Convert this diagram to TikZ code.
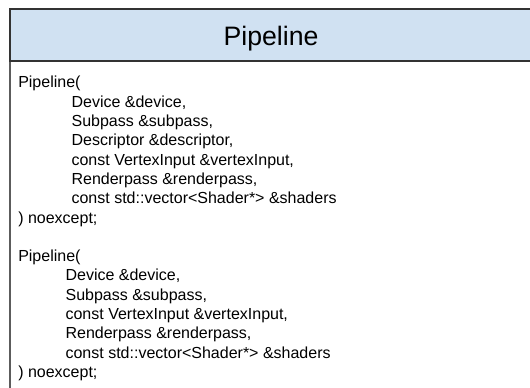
\documentclass[tikz,border=0pt]{standalone}
\usepackage{fontspec}
\setmainfont{Liberation Sans}
\usetikzlibrary{positioning}

\definecolor{headfill}{HTML}{D0E1F2}
\definecolor{boxline}{HTML}{333333}

\tikzset{
    header/.style={fill=headfill, draw=boxline, line width=1.5pt},
    body/.style={fill=white, draw=boxline!80, line width=0.9pt},
    code/.style={align=left, inner sep=0pt, anchor=base west,
        font=\fontsize{12pt}{14.5pt}\selectfont},
}

\begin{document}
\begin{tikzpicture}[x=0.75pt, y=-0.75pt]
    \useasboundingbox (0,0) rectangle (530,387);
    \clip (0,0) rectangle (530,387);

    % class box
    \draw[body] (10,61) rectangle (532,420);
    \draw[header] (10,9) rectangle (532,61);
    \node[font=\fontsize{20pt}{24pt}\selectfont, anchor=base] (title) at (271,45) {Pipeline};

    % constructors (base anchor sits on the last line)
    \node[code] (ctorA) at (18,223.1) {Pipeline(\\
        \hspace*{40pt}Device \&device,\\
        \hspace*{40pt}Subpass \&subpass,\\
        \hspace*{40pt}Descriptor \&descriptor,\\
        \hspace*{40pt}const VertexInput \&vertexInput,\\
        \hspace*{40pt}Renderpass \&renderpass,\\
        \hspace*{40pt}const std::vector<Shader*> \&shaders\\
        ) noexcept;};
    \node[code] (ctorB) at (18,377.5) {Pipeline(\\
        \hspace*{35.5pt}Device \&device,\\
        \hspace*{35.5pt}Subpass \&subpass,\\
        \hspace*{35.5pt}const VertexInput \&vertexInput,\\
        \hspace*{35.5pt}Renderpass \&renderpass,\\
        \hspace*{35.5pt}const std::vector<Shader*> \&shaders\\
        ) noexcept;};
\end{tikzpicture}
\end{document}
